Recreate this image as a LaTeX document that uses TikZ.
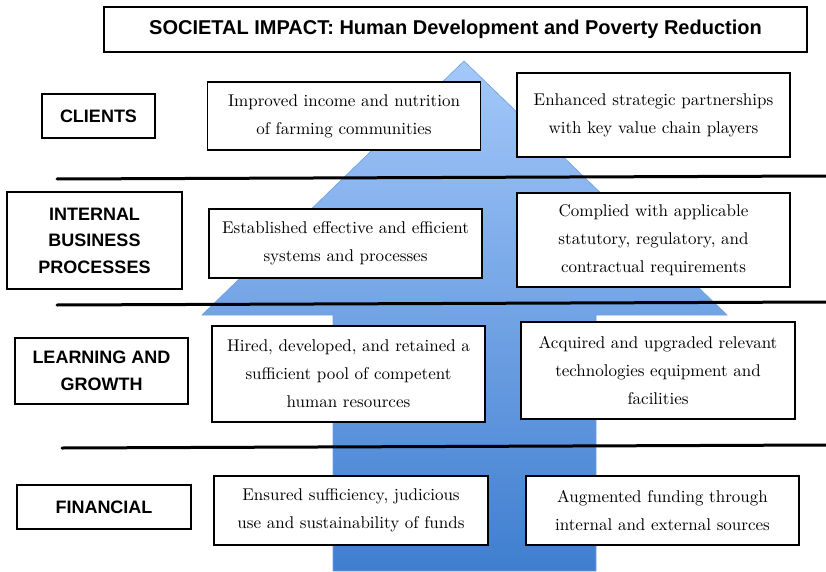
\documentclass[tikz,border=0pt]{standalone}
\usepackage{fontspec}
\usepackage{xcolor}
\usepackage{tikz}
\usetikzlibrary{positioning}

\newfontfamily\labelfont{Liberation Sans}
\newfontfamily\goalfont{lmroman10-regular.otf}
\definecolor{arrowtop}{HTML}{A4C8FA}
\definecolor{arrowbot}{HTML}{3F7ECF}
\definecolor{arrowline}{HTML}{6E9FE2}

\tikzset{
  goal/.style={draw, fill=white, line width=1.3pt, align=center,
    minimum width=273pt, minimum height=68pt, inner sep=2pt,
    font=\goalfont\fontsize{17}{28}\selectfont},
  persp/.style={draw, fill=white, line width=1.3pt, align=center,
    minimum width=174pt, minimum height=44pt, inner sep=2pt,
    font=\labelfont\bfseries\fontsize{18}{26.5}\selectfont},
  divider/.style={line width=3pt, line cap=round}
}

\begin{document}
\begin{tikzpicture}[x=1pt, y=-1pt]
        \useasboundingbox (0,0) rectangle (826,572);

        % big arrow behind the boxes
        \draw[arrowline, line width=0.6pt, top color=arrowtop, bottom color=arrowbot]
          (464,61) -- (727,315) -- (596,315) -- (596,571) -- (333,571)
          -- (333,315) -- (202,315) -- cycle;

        \draw[divider] (57,179) -- (826,176);
        \draw[divider] (57,305) -- (826,302);
        \draw[divider] (62,448) -- (826,445);

        \node (impact) [draw, fill=white, line width=1.3pt, minimum width=703pt, minimum height=45pt,
          font=\labelfont\bfseries\fontsize{20}{22}\selectfont] at (455.5,29.5)
          {SOCIETAL IMPACT: Human Development and Poverty Reduction};

        \node (clients) [persp, minimum width=113pt] at (98.5,116) {CLIENTS};
        \node (clients1) [goal] at (344,116) {Improved income and nutrition\\of farming communities};
        \node (clients2) [goal, minimum height=84pt] at (653.5,115) {Enhanced strategic partnerships\\with key value chain players};

        \node (internal) [persp, minimum width=175pt, minimum height=97pt] at (94.5,240.5) {INTERNAL\\BUSINESS\\PROCESSES};
        \node (internal1) [goal, minimum height=69pt] at (345.5,243.5) {Established effective and efficient\\systems and processes};
        \node (internal2) [goal, minimum height=94pt] at (653.5,240) {Complied with applicable\\statutory, regulatory, and\\contractual requirements};

        \node (learning) [persp, minimum width=173pt, minimum height=66pt] at (101.5,371) {LEARNING AND\\GROWTH};
        \node (learning1) [goal, minimum height=96pt] at (348.5,374) {Hired, developed, and retained a\\sufficient pool of competent\\human resources};
        \node (learning2) [goal, minimum width=274pt, minimum height=97pt] at (658,370.5) {Acquired and upgraded relevant\\technologies equipment and\\facilities};

        \node (financial) [persp] at (104,507) {FINANCIAL};
        \node (financial1) [goal, minimum width=274pt, minimum height=69pt] at (351,510.5) {Ensured sufficiency, judicious\\use and sustainability of funds};
        \node (financial2) [goal, minimum height=69pt] at (662.5,510.5) {Augmented funding through\\internal and external sources};
      \end{tikzpicture}
\end{document}
